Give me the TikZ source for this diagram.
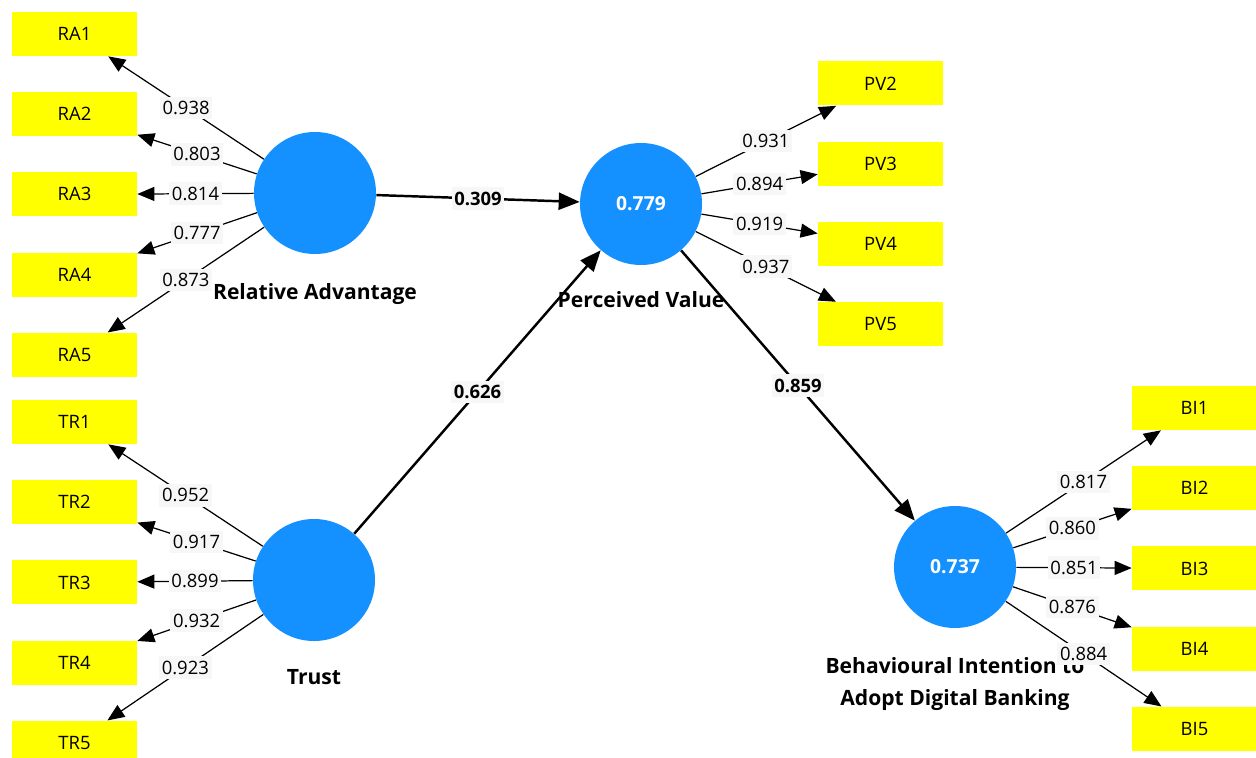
\documentclass[tikz,border=0pt]{standalone}
\usepackage{fontspec}
\setmainfont{Open Sans}
\usepackage{tikz}
\usetikzlibrary{arrows.meta, positioning}
\definecolor{myblue}{RGB}{20,145,255}
\definecolor{myyellow}{RGB}{255,255,0}
\definecolor{mydark}{RGB}{0,0,0}
\definecolor{lblgray}{RGB}{247,247,247}
\tikzset{
  item/.style={rectangle, fill=myyellow, minimum width=2.5cm,
    minimum height=0.88cm, inner sep=0pt, font=\fontsize{10.5}{12}\selectfont},
  latent/.style={circle, fill=myblue, minimum size=2.44cm, inner sep=0pt,
    font=\fontsize{11}{12}\selectfont\bfseries, text=white},
  latname/.style={align=center, inner sep=2pt, font=\fontsize{12}{18.5}\selectfont\bfseries},
  loading/.style={-{Triangle[length=0.34cm, width=0.28cm]}, line width=0.7pt, color=mydark},
  structarrow/.style={-{Triangle[length=0.42cm, width=0.34cm]}, line width=1.4pt, color=mydark},
  lval/.style={fill=lblgray, inner xsep=1.5pt, inner ysep=2.5pt,
    font=\fontsize{10.5}{12}\selectfont, text=mydark},
  pval/.style={fill=lblgray, inner xsep=1.5pt, inner ysep=2.5pt,
    font=\fontsize{10.5}{12}\selectfont\bfseries, text=mydark}
}

\begin{document}
\begin{tikzpicture}[node distance=0.71cm]
  \useasboundingbox (0,0) rectangle (25.12,-15.16);

  % Constructs
  \node[latent] (ra) at (6.3,-3.86) {};
  \node[latent] (pv) at (12.82,-4.08) {0.779};
  \node[latent] (tr) at (6.28,-11.6) {};
  \node[latent] (bi) at (19.1,-11.34) {0.737};

  \node[latname, below=0.5cm of ra] (ralab) {Relative Advantage};
  \node[latname, below=0.44cm of pv] (pvlab) {Perceived Value};
  \node[latname, below=0.48cm of tr] (trlab) {Trust};
  \node[latname, below=0.5cm of bi] (bilab) {Behavioural Intention to\\Adopt Digital Banking};

  % Relative Advantage items
  \node[item] (ra1) at (1.49,-0.68) {RA1};
  \node[item, below=of ra1] (ra2) {RA2};
  \node[item, below=of ra2] (ra3) {RA3};
  \node[item, below=of ra3] (ra4) {RA4};
  \node[item, below=of ra4] (ra5) {RA5};

  % Trust items
  \node[item] (tr1) at (1.49,-8.44) {TR1};
  \node[item, below=of tr1] (tr2) {TR2};
  \node[item, below=of tr2] (tr3) {TR3};
  \node[item, below=of tr3] (tr4) {TR4};
  \node[item, below=of tr4] (tr5) {TR5};

  % Perceived Value items
  \node[item] (pv2) at (17.61,-1.67) {PV2};
  \node[item, below=of pv2] (pv3) {PV3};
  \node[item, below=of pv3] (pv4) {PV4};
  \node[item, below=of pv4] (pv5) {PV5};

  % Behavioural Intention items
  \node[item] (bi1) at (23.89,-8.16) {BI1};
  \node[item, below=of bi1] (bi2) {BI2};
  \node[item, below=of bi2] (bi3) {BI3};
  \node[item, below=of bi3] (bi4) {BI4};
  \node[item, below=of bi4] (bi5) {BI5};

  % Outer loadings
  \draw[loading] (ra) -- node[lval] {0.938} (ra1);
  \draw[loading] (ra) -- node[lval] {0.803} (ra2);
  \draw[loading] (ra) -- node[lval] {0.814} (ra3);
  \draw[loading] (ra) -- node[lval] {0.777} (ra4);
  \draw[loading] (ra) -- node[lval] {0.873} (ra5);

  \draw[loading] (tr) -- node[lval] {0.952} (tr1);
  \draw[loading] (tr) -- node[lval] {0.917} (tr2);
  \draw[loading] (tr) -- node[lval] {0.899} (tr3);
  \draw[loading] (tr) -- node[lval] {0.932} (tr4);
  \draw[loading] (tr) -- node[lval] {0.923} (tr5);

  \draw[loading] (pv) -- node[lval] {0.931} (pv2);
  \draw[loading] (pv) -- node[lval] {0.894} (pv3);
  \draw[loading] (pv) -- node[lval] {0.919} (pv4);
  \draw[loading] (pv) -- node[lval] {0.937} (pv5);

  \draw[loading] (bi) -- node[lval] {0.817} (bi1);
  \draw[loading] (bi) -- node[lval] {0.860} (bi2);
  \draw[loading] (bi) -- node[lval] {0.851} (bi3);
  \draw[loading] (bi) -- node[lval] {0.876} (bi4);
  \draw[loading] (bi) -- node[lval] {0.884} (bi5);

  % Path coefficients
  \draw[structarrow] (ra) -- node[pval] {0.309} (pv);
  \draw[structarrow] (tr) -- node[pval] {0.626} (pv);
  \draw[structarrow] (pv) -- node[pval] {0.859} (bi);
\end{tikzpicture}
\end{document}
